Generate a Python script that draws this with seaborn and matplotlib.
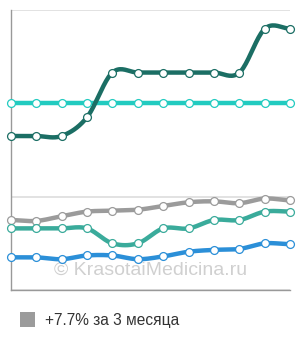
import numpy as np
import pandas as pd
import matplotlib
matplotlib.use("Agg")
import matplotlib.pyplot as plt
import seaborn as sns

months = list(range(12))
dark_teal = [1.65, 1.65, 1.65, 1.85, 2.33, 2.33, 2.33, 2.33, 2.33, 2.33, 2.80, 2.80]
cyan = [2.0] * 12
gray = [0.75, 0.74, 0.79, 0.84, 0.85, 0.86, 0.90, 0.94, 0.95, 0.93, 0.98, 0.96]
teal = [0.66, 0.66, 0.66, 0.66, 0.50, 0.50, 0.66, 0.66, 0.75, 0.75, 0.84, 0.84]
blue = [0.35, 0.35, 0.33, 0.37, 0.37, 0.33, 0.36, 0.41, 0.43, 0.44, 0.50, 0.49]
legend_label = "+7.7% за 3 месяца"
watermark = "© KrasotaiMedicina.ru"

series = [
    ("gray", gray, "#9b9b9b"),
    ("teal", teal, "#3aab9b"),
    ("blue", blue, "#2b8fd8"),
    ("cyan", cyan, "#22cbc0"),
    ("dark", dark_teal, "#1b6e64"),
]

sns.set_style("white")
plt.rcParams['font.family'] = ['Liberation Sans', 'DejaVu Sans']

fig = plt.figure(figsize=(3.0, 3.4), dpi=100)
ax = fig.add_axes([10.7 / 300, 1 - 290 / 340, (290.3 - 10.7) / 300, 280 / 340])


def smooth(x, y, n=20, tension=0.5):
    x = np.asarray(x, float)
    y = np.asarray(y, float)
    px = np.concatenate([[x[0]], x, [x[-1]]])
    py = np.concatenate([[y[0]], y, [y[-1]]])
    xs, ys = [], []
    t = np.linspace(0, 1, n, endpoint=False)
    for i in range(1, len(px) - 2):
        p0, p1, p2, p3 = py[i - 1], py[i], py[i + 1], py[i + 2]
        m1 = tension * (p2 - p0)
        m2 = tension * (p3 - p1)
        h00 = 2 * t**3 - 3 * t**2 + 1
        h10 = t**3 - 2 * t**2 + t
        h01 = -2 * t**3 + 3 * t**2
        h11 = t**3 - t**2
        ys.append(h00 * p1 + h10 * m1 + h01 * p2 + h11 * m2)
        xs.append(px[i] + t * (px[i + 1] - px[i]))
    xs.append([x[-1]])
    ys.append([y[-1]])
    return np.concatenate(xs), np.concatenate(ys)


for name, vals, col in series:
    sx, sy = smooth(months, vals)
    ax.plot(sx, sy, color=col, lw=3.2, solid_capstyle="round", zorder=3, clip_on=False)
    df = pd.DataFrame({"m": months, "v": vals})
    sns.scatterplot(data=df, x="m", y="v", ax=ax, s=32, color="white",
                    edgecolor=col, linewidth=0.9, zorder=4, clip_on=False, legend=False)

ax.set_xlim(0, 11)
ax.set_ylim(0, 3)
ax.set_yticks([0, 1, 2, 3])
ax.set_xticks(months)
ax.set_xticklabels([])
ax.set_yticklabels([])
ax.set_xlabel("")
ax.set_ylabel("")
ax.grid(axis="y", color="#dddddd", lw=1.2, zorder=0)
ax.grid(axis="x", visible=False)
for s in ["top", "right"]:
    ax.spines[s].set_visible(False)
for s in ["left", "bottom"]:
    ax.spines[s].set_color("#999999")
    ax.spines[s].set_linewidth(1.0)
ax.tick_params(axis="both", direction="out", length=5, width=1, color="#999999")
ax.set_axisbelow(True)

ax.text(0.5, 0.07, watermark, transform=ax.transAxes, ha="center", va="center",
        fontsize=14, color="#d0d0d0", zorder=2)

fig.patches.append(plt.Rectangle((20 / 300, 1 - 327 / 340), 15 / 300, 15 / 340,
                                 transform=fig.transFigure, facecolor="#9b9b9b",
                                 edgecolor="none", figure=fig))
fig.text(45 / 300, 1 - 320 / 340, legend_label, ha="left", va="center",
         fontsize=11.2, color="#333333")

fig.savefig("out.png", dpi=100)
